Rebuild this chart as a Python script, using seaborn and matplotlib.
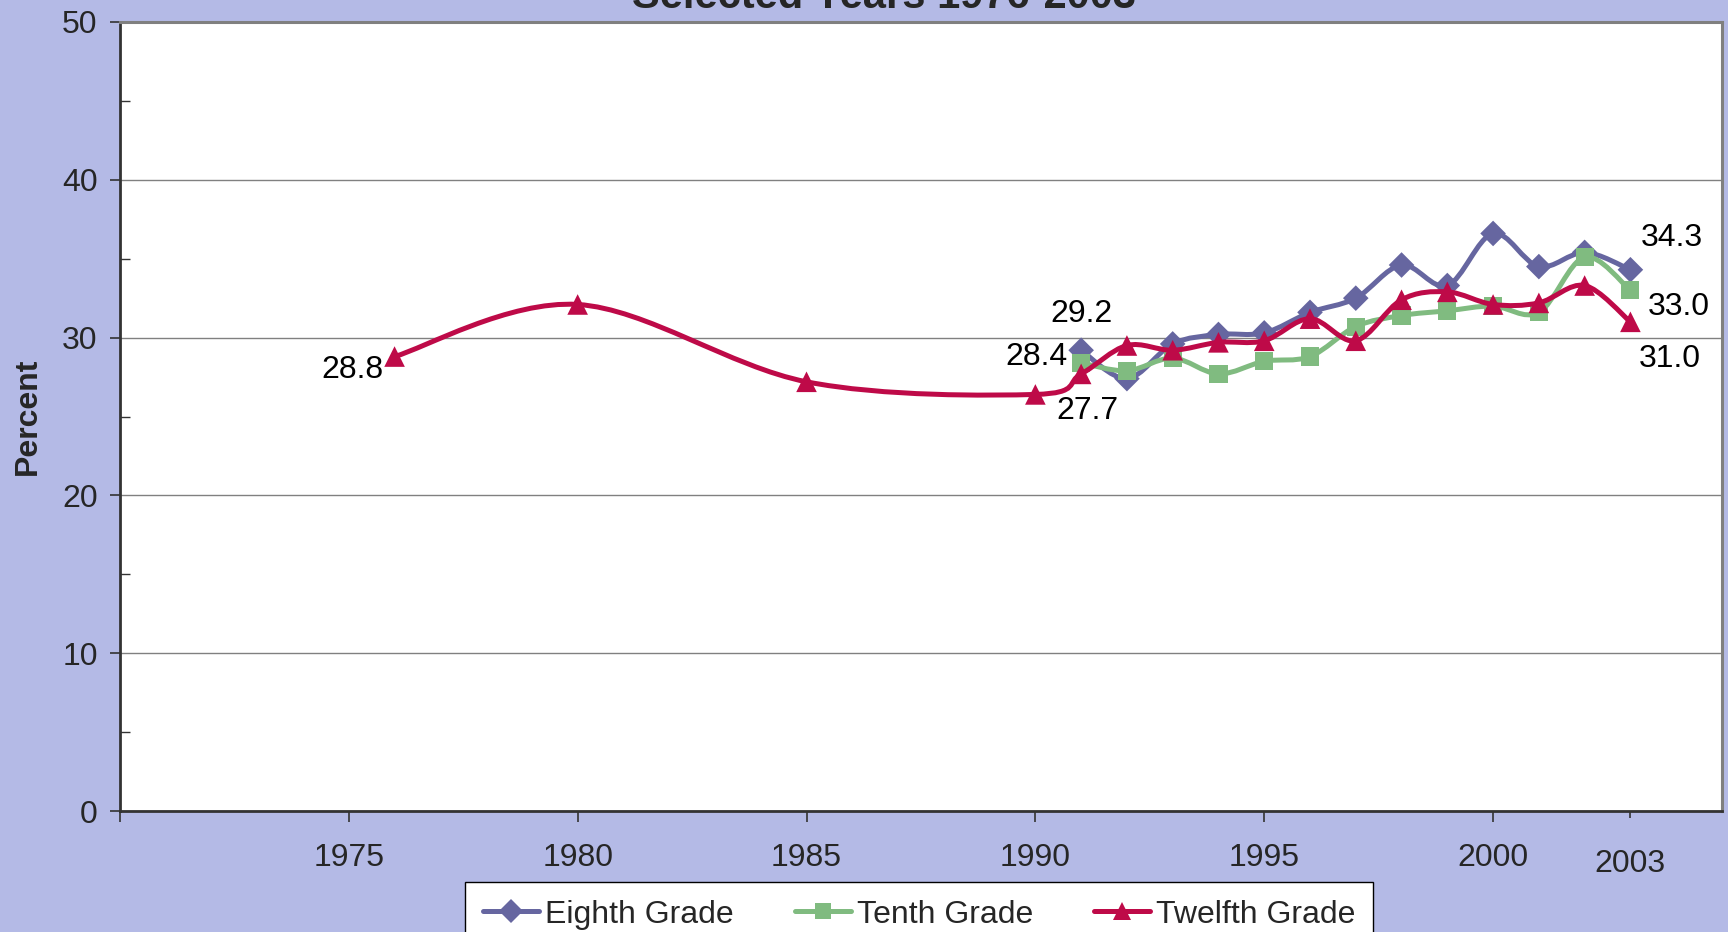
import numpy as np
import pandas as pd
import matplotlib
matplotlib.use("Agg")
import matplotlib.pyplot as plt
from matplotlib.path import Path
from matplotlib.patches import PathPatch
from matplotlib.lines import Line2D
import seaborn as sns

# data
years_8_10 = [1991, 1992, 1993, 1994, 1995, 1996, 1997, 1998, 1999, 2000, 2001, 2002, 2003]
eighth = [29.2, 27.4, 29.6, 30.2, 30.3, 31.6, 32.5, 34.6, 33.3, 36.6, 34.5, 35.4, 34.3]
tenth = [28.4, 27.9, 28.7, 27.7, 28.5, 28.8, 30.7, 31.4, 31.7, 32.0, 31.6, 35.1, 33.0]
years_12 = [1976, 1980, 1985, 1990, 1991, 1992, 1993, 1994, 1995, 1996, 1997, 1998, 1999,
            2000, 2001, 2002, 2003]
twelfth = [28.8, 32.1, 27.2, 26.4, 27.7, 29.5, 29.2, 29.7, 29.8, 31.2, 29.8, 32.4, 32.9,
           32.1, 32.2, 33.3, 31.0]

series_names = ["Eighth Grade", "Tenth Grade", "Twelfth Grade"]
x_ticks = [1970, 1975, 1980, 1985, 1990, 1995, 2000]
x_tick_labels = ["", "1975", "1980", "1985", "1990", "1995", "2000"]
y_ticks = [0, 10, 20, 30, 40, 50]

BG = "#B4BAE6"
colors = ["#6666A0", "#80BB80", "#BE0A48"]
markers = ["D", "s", "^"]
msizes = [170, 170, 220]

sns.set_theme(style="white")
plt.rcParams["font.family"] = ["Liberation Sans", "DejaVu Sans"]

fig = plt.figure(figsize=(17.28, 9.32), dpi=100, facecolor=BG)
ax = fig.add_axes([0.0694, 0.1298, 0.9271, 0.8466])
ax.set_facecolor("white")


def smooth_path(xs, ys):
    # Excel-style smoothed line: Catmull-Rom segments as cubic Bezier
    pts = np.column_stack([xs, ys]).astype(float)
    n = len(pts)
    verts, codes = [pts[0]], [Path.MOVETO]
    for i in range(n - 1):
        p0 = pts[i - 1] if i > 0 else pts[i]
        p1, p2 = pts[i], pts[i + 1]
        p3 = pts[i + 2] if i + 2 < n else pts[i + 1]
        verts += [p1 + (p2 - p0) / 6, p2 - (p3 - p1) / 6, p2]
        codes += [Path.CURVE4] * 3
    return Path(verts, codes)


frames = [
    pd.DataFrame({"year": years_8_10, "pct": eighth}),
    pd.DataFrame({"year": years_8_10, "pct": tenth}),
    pd.DataFrame({"year": years_12, "pct": twelfth}),
]

for i, df in enumerate(frames):
    ax.add_patch(PathPatch(smooth_path(df["year"], df["pct"]), fill=False,
                           edgecolor=colors[i], lw=3.6, zorder=3 + i * 2,
                           capstyle="round", joinstyle="round"))
    sns.scatterplot(data=df, x="year", y="pct", marker=markers[i], s=msizes[i],
                    color=colors[i], edgecolor="none", linewidth=0,
                    zorder=4 + i * 2, ax=ax, legend=False)

# data labels
labels = [
    (1976, 28.8, "28.8", -42, -13),
    (1991, 29.2, "29.2", 0, 36),
    (1991, 28.4, "28.4", -45, 6),
    (1991, 27.7, "27.7", 6, -37),
    (2003, 34.3, "34.3", 41, 32),
    (2003, 33.0, "33.0", 48, -17),
    (2003, 31.0, "31.0", 39, -37),
]
for x, y, t, dx, dy in labels:
    ax.annotate(t, (x, y), xytext=(dx, dy), textcoords="offset pixels",
                ha="center", va="center", fontsize=23, color="black", zorder=10)

ax.set_xlim(1970, 2005)
ax.set_ylim(0, 50)
ax.set_xticks(x_ticks)
ax.set_xticklabels(x_tick_labels)
ax.set_xticks([2003], minor=True)
ax.set_xticklabels(["2003"], minor=True)
ax.set_yticks(y_ticks)
ax.set_yticks([5, 15, 25, 35, 45], minor=True)

ax.tick_params(axis="x", which="major", direction="out", length=8, width=1.2,
               color="#333333", labelsize=23, pad=15, bottom=True)
ax.tick_params(axis="x", which="minor", direction="out", length=5, width=1.2,
               color="#333333", labelsize=23, pad=22, bottom=True)
ax.tick_params(axis="y", which="major", direction="out", length=7, width=1.2,
               color="#333333", labelsize=23, pad=9, left=True)
ax.tick_params(axis="y", which="minor", direction="in", length=7, width=1.0,
               color="#333333", left=True)

ax.yaxis.grid(True, which="major", color="#808080", lw=1.0)
ax.xaxis.grid(False)
ax.set_axisbelow(True)

for side in ["left", "bottom"]:
    ax.spines[side].set_color("#333333")
    ax.spines[side].set_linewidth(2)
for side in ["top", "right"]:
    ax.spines[side].set_color("#808080")
    ax.spines[side].set_linewidth(2.2)

ax.set_xlabel("")
ax.set_ylabel("Percent", fontsize=23, fontweight="bold", va="center")
ax.yaxis.set_label_coords(-0.0575, 0.5)

fig.text(0.5115, 0.991, "Selected Years 1976-2003", ha="center", va="baseline",
         fontsize=30, fontweight="bold")

handles = [Line2D([], [], color=colors[i], lw=3.6, marker=markers[i],
                  markersize=[12, 12, 13][i], markeredgewidth=0)
           for i in range(3)]
leg = fig.legend(handles, series_names, loc="upper center", bbox_to_anchor=(0.532, 0.0536),
                 ncol=3, fontsize=23, frameon=True, fancybox=False, edgecolor="black",
                 facecolor="white", framealpha=1, handlelength=1.75, handletextpad=0.2,
                 columnspacing=1.9, borderpad=0.55, borderaxespad=0)
leg.get_frame().set_linewidth(1.0)

fig.savefig("out.png", dpi=100, facecolor=BG)
